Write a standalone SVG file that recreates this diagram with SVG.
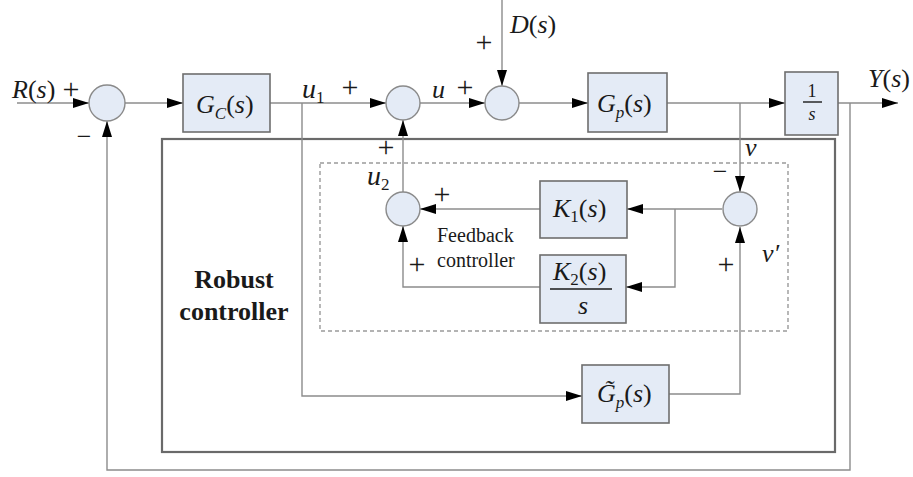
<svg xmlns="http://www.w3.org/2000/svg" width="913" height="477" viewBox="0 0 913 477" font-family="'Liberation Serif', Tinos, 'Nimbus Roman', FreeSerif, 'Noto Serif', 'DejaVu Serif', Times, serif">
  <style>
    .blk { fill: #e4ebf6; stroke: #6e6e6e; stroke-width: 1.6; }
    .sum { fill: #e4ebf6; stroke: #8a8a8a; stroke-width: 1.4; }
    .wire { fill: none; stroke: #8c8c8c; stroke-width: 1.4; }
    .arr { marker-end: url(#ah); }
    .frame { fill: none; stroke: #6a6a6a; stroke-width: 2.2; }
    .dash { fill: none; stroke: #9a9a9a; stroke-width: 1.4; stroke-dasharray: 4 3; }
    text { font-family: 'Liberation Serif', Tinos, 'Nimbus Roman', FreeSerif, 'Noto Serif', 'DejaVu Serif', Times, serif; fill: #1a1a1a; }
    .m { font-size: 26px; }
    .i { font-style: italic; }
    .sub { font-size: 17px; }
    .sg { font-size: 30px; text-anchor: middle; }
    .mi { font-size: 26px; text-anchor: middle; }
    .note { font-size: 20px; }
    .bold { font-size: 26px; font-weight: bold; text-anchor: middle; }
  </style>
  <defs>
    <marker id="ah" viewBox="0 0 16 10" markerWidth="16" markerHeight="10" refX="16" refY="5" orient="auto" markerUnits="userSpaceOnUse">
      <path d="M0,0 L16,5 L0,10 z" fill="#000"/>
    </marker>
  </defs>

  <!-- enclosing frames -->
  <g id="robust-frame">
    <rect class="frame" x="162" y="139" width="673" height="313"/>
    <text class="bold" x="234" y="288">Robust</text>
    <text class="bold" x="234" y="320">controller</text>
  </g>
  <g id="feedback-frame">
    <rect class="dash" x="320" y="163" width="468" height="168"/>
    <text class="note" x="437" y="242">Feedback</text>
    <text class="note" x="437" y="267">controller</text>
  </g>

  <!-- connectors -->
  <g id="connectors">
    <path class="wire arr" d="M17,103 H89"/>
    <path class="wire arr" d="M125,103 H183"/>
    <path class="wire arr" d="M270,103 H386"/>
    <path class="wire arr" d="M420,103 H485"/>
    <path class="wire arr" d="M519,103 H588"/>
    <path class="wire arr" d="M667,103 H785"/>
    <path class="wire arr" d="M838,103 H898"/>
    <path class="wire arr" d="M502,0 V86"/>
    <path class="wire arr" d="M740,103 V192"/>
    <path class="wire arr" d="M722,209 H627"/>
    <path class="wire arr" d="M675,209 V287 H626"/>
    <path class="wire arr" d="M540,209 H420"/>
    <path class="wire arr" d="M540,287 H403 V226"/>
    <path class="wire arr" d="M403,192 V120"/>
    <path class="wire arr" d="M302,103 V396 H582"/>
    <path class="wire arr" d="M669,394 H740 V227"/>
    <path class="wire arr" d="M850,103 V470 H107 V121"/>
  </g>

  <!-- summing junctions -->
  <g id="sum1">
    <circle class="sum" cx="107" cy="103" r="18"/>
    <text class="sg" x="71" y="99">+</text>
    <text class="mi" x="84" y="145">−</text>
  </g>
  <g id="sum2">
    <circle class="sum" cx="403" cy="103" r="17"/>
    <text class="sg" x="350" y="97">+</text>
    <text class="sg" x="386" y="157">+</text>
  </g>
  <g id="sum3">
    <circle class="sum" cx="502" cy="103" r="17"/>
    <text class="sg" x="465" y="97">+</text>
    <text class="sg" x="484" y="52">+</text>
  </g>
  <g id="sum-u2">
    <circle class="sum" cx="403" cy="209" r="17"/>
    <text class="sg" x="442" y="204">+</text>
    <text class="sg" x="417" y="274">+</text>
  </g>
  <g id="sum-v">
    <circle class="sum" cx="740" cy="209" r="17"/>
    <text class="mi" x="720" y="180">−</text>
    <text class="sg" x="726" y="274">+</text>
  </g>

  <!-- transfer blocks -->
  <g id="gc">
    <rect class="blk" x="183" y="74" width="87" height="58"/>
    <text class="m" x="196" y="113"><tspan class="i">G</tspan><tspan class="sub i" dy="6">C</tspan><tspan dy="-6">(</tspan><tspan class="i">s</tspan>)</text>
  </g>
  <g id="gp">
    <rect class="blk" x="588" y="73" width="79" height="59"/>
    <text class="m" x="597" y="112"><tspan class="i">G</tspan><tspan class="sub i" dy="6">p</tspan><tspan dy="-6">(</tspan><tspan class="i">s</tspan>)</text>
  </g>
  <g id="integrator">
    <rect class="blk" x="785" y="72" width="53" height="63"/>
    <text x="812" y="97" font-size="18" text-anchor="middle">1</text>
    <line x1="803" y1="102" x2="822" y2="102" stroke="#1a1a1a" stroke-width="1.4"/>
    <text x="812" y="120" font-size="18" font-style="italic" text-anchor="middle">s</text>
  </g>
  <g id="k1">
    <rect class="blk" x="540" y="181" width="87" height="57"/>
    <text class="m" x="553" y="217"><tspan class="i">K</tspan><tspan class="sub" dy="5">1</tspan><tspan dy="-5">(</tspan><tspan class="i">s</tspan>)</text>
  </g>
  <g id="k2">
    <rect class="blk" x="540" y="255" width="86" height="68"/>
    <text class="m" x="553" y="280"><tspan class="i">K</tspan><tspan class="sub" dy="5">2</tspan><tspan dy="-5">(</tspan><tspan class="i">s</tspan>)</text>
    <line x1="550" y1="289" x2="612" y2="289" stroke="#1a1a1a" stroke-width="1.4"/>
    <text class="m i" x="583" y="314" text-anchor="middle">s</text>
  </g>
  <g id="gp-model">
    <rect class="blk" x="582" y="365" width="87" height="58"/>
    <text class="m" x="597" y="402"><tspan class="i">G&#x303;</tspan><tspan class="sub i" dy="6">p</tspan><tspan dy="-6">(</tspan><tspan class="i">s</tspan>)</text>
  </g>

  <!-- signal labels -->
  <g id="labels">
    <text class="m" x="12" y="98"><tspan class="i">R</tspan>(<tspan class="i">s</tspan>)</text>
    <text class="m" x="510" y="33"><tspan class="i">D</tspan>(<tspan class="i">s</tspan>)</text>
    <text class="m" x="868" y="87"><tspan class="i">Y</tspan>(<tspan class="i">s</tspan>)</text>
    <text class="m" x="302" y="98"><tspan class="i" font-size="28">u</tspan><tspan class="sub" dy="5">1</tspan></text>
    <text class="m i" x="432" y="98" font-size="28">u</text>
    <text class="m" x="367" y="185"><tspan class="i" font-size="28">u</tspan><tspan class="sub" dy="5">2</tspan></text>
    <text class="m i" x="745" y="156">v</text>
    <text class="m i" x="762" y="262">v′</text>
  </g>
</svg>
